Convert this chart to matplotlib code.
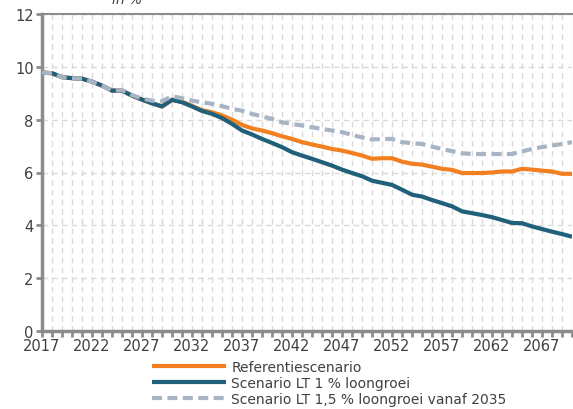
import matplotlib
matplotlib.use("Agg")
import matplotlib.pyplot as plt
from matplotlib.ticker import MultipleLocator

years = list(range(2017, 2071))

referentie = [9.78, 9.76, 9.61, 9.57, 9.55, 9.44, 9.29, 9.10, 9.10, 8.91,
              8.76, 8.62, 8.50, 8.75, 8.68, 8.52, 8.36, 8.28, 8.16, 8.00,
              7.80, 7.67, 7.59, 7.49, 7.37, 7.27, 7.15, 7.06, 6.98, 6.89,
              6.83, 6.74, 6.64, 6.52, 6.54, 6.54, 6.41, 6.33, 6.30, 6.22,
              6.14, 6.10, 5.98, 5.98, 5.98, 6.00, 6.04, 6.04, 6.14, 6.11,
              6.07, 6.04, 5.95, 5.95]

lt1 = [9.78, 9.76, 9.61, 9.57, 9.55, 9.44, 9.29, 9.10, 9.10, 8.91,
       8.76, 8.62, 8.50, 8.75, 8.66, 8.50, 8.33, 8.22, 8.06, 7.84,
       7.59, 7.44, 7.27, 7.12, 6.96, 6.77, 6.64, 6.52, 6.39, 6.26,
       6.11, 5.98, 5.86, 5.69, 5.61, 5.53, 5.35, 5.16, 5.09, 4.96,
       4.84, 4.72, 4.53, 4.46, 4.39, 4.31, 4.20, 4.09, 4.08, 3.96,
       3.86, 3.76, 3.67, 3.57]

lt15 = [9.78, 9.76, 9.61, 9.57, 9.55, 9.44, 9.29, 9.10, 9.12, 8.93,
        8.80, 8.72, 8.70, 8.89, 8.81, 8.72, 8.66, 8.60, 8.51, 8.41,
        8.34, 8.22, 8.12, 8.03, 7.90, 7.84, 7.78, 7.71, 7.65, 7.59,
        7.53, 7.42, 7.33, 7.25, 7.27, 7.27, 7.15, 7.11, 7.08, 6.98,
        6.89, 6.81, 6.73, 6.70, 6.70, 6.70, 6.70, 6.70, 6.80, 6.89,
        6.96, 7.02, 7.08, 7.15]

labels = ["Referentiescenario",
          "Scenario LT 1 % loongroei",
          "Scenario LT 1,5 % loongroei vanaf 2035"]

c_orange = "#F28021"
c_blue = "#20607A"
c_gray = "#A7B4C3"
c_axis = "#8C8C8C"
c_text = "#404040"

plt.rcParams['font.family'] = ['DejaVu Sans']

fig = plt.figure(figsize=(5.73, 4.10), dpi=100)
ax = fig.add_axes([42/573, 1-332/410, 530/573, 317/410])

ax.plot(years, referentie, color=c_orange, lw=3, zorder=3, label=labels[0], solid_capstyle='butt')
ax.plot(years, lt1, color=c_blue, lw=3, zorder=4, label=labels[1], solid_capstyle='butt')
ax.plot(years, lt15, color=c_gray, lw=3, zorder=5, label=labels[2], dashes=(2.4, 1.3))

ax.set_xlim(2017, 2070)
ax.set_ylim(0, 12)
ax.xaxis.set_minor_locator(MultipleLocator(1))
ax.set_xticks(list(range(2017, 2070, 5)))
ax.yaxis.set_major_locator(MultipleLocator(2))

ax.grid(True, which='both', axis='x', color='#D9D9D9', lw=1, ls=(0, (4, 3)))
ax.grid(True, which='major', axis='y', color='#D9D9D9', lw=1, ls=(0, (4, 3)))
ax.set_axisbelow(True)

for s in ['left', 'bottom']:
    ax.spines[s].set_color(c_axis)
    ax.spines[s].set_linewidth(2.5)
ax.spines['top'].set_color(c_axis)
ax.spines['top'].set_linewidth(1.5)
ax.spines['right'].set_visible(False)

ax.tick_params(axis='both', which='both', colors=c_axis, labelcolor=c_text, labelsize=10.5)
ax.tick_params(axis='x', which='major', length=4, width=2, pad=1)
ax.tick_params(axis='x', which='minor', length=4, width=2)
ax.tick_params(axis='y', length=4, width=2, pad=2)

fig.text(0.195, 1.0, "in %", style='italic', fontsize=10, color=c_text, va='center', ha='left')

fig.legend(loc='upper left', bbox_to_anchor=(152/573, 1-361/410), frameon=False,
           fontsize=10, handlelength=5.3, labelspacing=0.15, handletextpad=0.4,
           borderaxespad=0, borderpad=0, labelcolor=c_text)

fig.savefig("out.png", dpi=100)
